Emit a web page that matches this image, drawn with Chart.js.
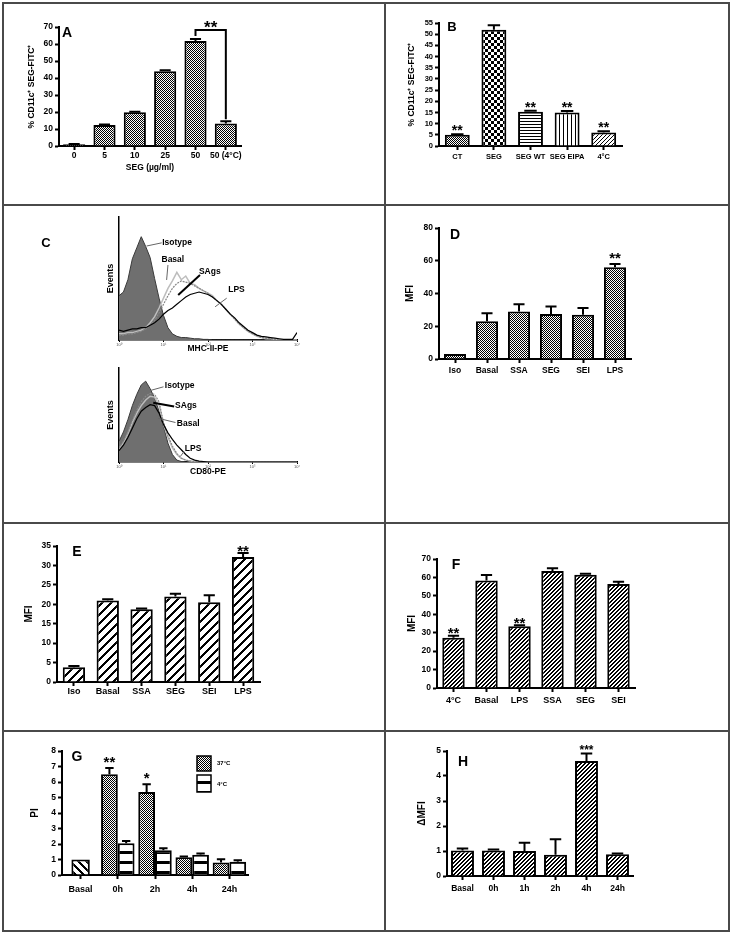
<!DOCTYPE html>
<html>
<head>
<meta charset="utf-8">
<script src="https://cdn.jsdelivr.net/npm/chart.js@4.4.1/dist/chart.umd.min.js"></script>
<style>
  body { margin: 0; background: #fff; }
  #page { position: relative; width: 732px; height: 935px; overflow: hidden; background: #fff; }
  #page canvas { position: absolute; }
  .rule { position: absolute; background: #4a4a4a; }
</style>
</head>
<body>
<div id="page"></div>
<script>
// ---- data ----
// A
var catsA = ['0', '5', '10', '25', '50', '50 (4°C)'];
var valsA = [1, 12.3, 19.8, 44, 61.8, 13.3];
var errA = [0.2, 0.3, 0.3, 0.5, 1.2, 1.3];
// B
var catsB = ['CT', 'SEG', 'SEG WT', 'SEG EIPA', '4°C'];
var valsB = [5, 52, 15.3, 15, 6];
var errB = [0.3, 2, 0.5, 0.6, 0.6];
// C (histograms, x in decades 10^0..10^4, y in % of axis height)
var decadeLabels = ['10⁰', '10¹', '10²', '10³', '10⁴'];
var histX = [0, 0.1, 0.2, 0.3, 0.4, 0.5, 0.6, 0.7, 0.8, 0.9, 1, 1.1, 1.2, 1.3, 1.4, 1.5, 1.6, 1.7, 1.8, 1.9, 2,
  2.1, 2.2, 2.3, 2.4, 2.5, 2.6, 2.7, 2.8, 2.9, 3, 3.1, 3.2, 3.3, 3.4, 3.5, 3.6, 3.7, 3.8, 3.9, 4];
var mhcIso = [36, 39, 49, 66, 75, 84, 76, 67, 50, 34, 20, 10, 5, 3, 2, 2, 1.5, 1, 1, 0.5, 0.5,
  0, 0, 0, 0, 0, 0, 0, 0, 0, 0, 0, 0, 0, 0, 0, 0, 0, 0, 0, 0];
var mhcBasal = [5, 5, 6, 6, 7, 8, 10, 14, 19, 26, 34, 42, 48, 55, 49, 52, 46, 45, 42, 40,
  38, 36, 32, 29, 25, 21, 17, 13, 10, 7, 5, 3, 2, 1, 1, 0.5, 0, 0, 0, 0, 0];
var mhcSAgs = [4, 4, 5, 5, 6, 7, 9, 12, 16, 22, 29, 36, 42, 46, 48, 47, 46, 44, 42, 40,
  38, 35, 32, 29, 25, 21, 17, 13, 10, 7, 5, 3.5, 2, 1.5, 1, 0.5, 0, 0, 0, 0, 0];
var mhcLPS = [8, 7, 8, 9, 9, 10, 10, 12, 14, 17, 21, 24, 26, 29, 32, 35, 37, 38, 39, 38,
  37, 35, 32, 29, 25, 21, 18, 14, 11, 8, 6, 4, 3, 2.5, 2, 1.5, 1, 0.5, 0.5, 0.5, 6];
var cd80Iso = [22, 32, 45, 60, 72, 82, 86, 78, 68, 54, 38, 20, 8, 2, 0.5,
  0, 0, 0, 0, 0, 0, 0, 0, 0, 0, 0, 0, 0, 0, 0, 0, 0, 0, 0, 0, 0, 0, 0, 0, 0, 0];
var cd80SAgs = [15, 22, 32, 44, 55, 64, 70, 73, 72, 64, 42, 28, 17, 9, 4, 2, 1, 0.5,
  0, 0, 0, 0, 0, 0, 0, 0, 0, 0, 0, 0, 0, 0, 0, 0, 0, 0, 0, 0, 0, 0, 0];
var cd80Basal = [14, 20, 30, 42, 52, 60, 66, 70, 69, 60, 40, 26, 15, 8, 4, 2, 1, 0.5,
  0, 0, 0, 0, 0, 0, 0, 0, 0, 0, 0, 0, 0, 0, 0, 0, 0, 0, 0, 0, 0, 0, 0];
var cd80LPS = [12, 18, 26, 36, 46, 54, 58, 61, 60, 52, 40, 31, 24, 18, 13, 8, 4, 2, 1, 0.5,
  0, 0, 0, 0, 0, 0, 0, 0, 0, 0, 0, 0, 0, 0, 0, 0, 0, 0, 0, 0, 0];
// D
var catsD = ['Iso', 'Basal', 'SSA', 'SEG', 'SEI', 'LPS'];
var valsD = [3, 23, 29, 27.5, 27, 56];
var errD = [0, 5, 4.5, 4.5, 4.2, 2];
// E
var catsE = ['Iso', 'Basal', 'SSA', 'SEG', 'SEI', 'LPS'];
var valsE = [3.8, 21, 18.7, 22, 20.5, 32.2];
var errE = [0.3, 0.3, 0.2, 0.7, 1.8, 1.0];
// F
var catsF = ['4°C', 'Basal', 'LPS', 'SSA', 'SEG', 'SEI'];
var valsF = [27.3, 58.3, 33.5, 63.5, 61.5, 56.5];
var errF = [1, 3, 0.5, 1.5, 0.5, 1.2];
// G
var catsG = ['Basal', '0h', '2h', '4h', '24h'];
var basalG = [1, null, null, null, null];
var warmG = [null, 6.5, 5.35, 1.15, 0.8];
var warmErrG = [0, 0.4, 0.5, 0.05, 0.22];
var coldG = [null, 2.05, 1.6, 1.3, 0.85];
var coldErrG = [0, 0.15, 0.12, 0.08, 0.1];
// H
var catsH = ['Basal', '0h', '1h', '2h', '4h', '24h'];
var valsH = [1.02, 1.02, 1.0, 0.85, 4.6, 0.87];
var errH = [0.08, 0.04, 0.33, 0.62, 0.3, 0.03];

// ---- setup ----
var FONT = '"Liberation Sans", Arial, sans-serif';
Chart.defaults.font.family = FONT;
Chart.defaults.font.weight = 'bold';
Chart.defaults.color = '#000';
var page = document.getElementById('page');

// table rules
[[3, 2, 727, 2], [3, 204, 727, 2], [3, 522, 727, 2], [3, 730, 727, 2], [3, 930, 727, 2],
 [2, 2, 2, 930], [384, 2, 2, 930], [728, 2, 2, 930]].forEach(function (r) {
  var d = document.createElement('div');
  d.className = 'rule';
  d.style.left = r[0] + 'px'; d.style.top = r[1] + 'px';
  d.style.width = r[2] + 'px'; d.style.height = r[3] + 'px';
  page.appendChild(d);
});

function pattern(w, h, black) {
  var t = document.createElement('canvas');
  t.width = w; t.height = h;
  var g = t.getContext('2d');
  g.fillStyle = '#fff'; g.fillRect(0, 0, w, h);
  g.fillStyle = '#000';
  for (var y = 0; y < h; y++) for (var x = 0; x < w; x++) if (black(x, y)) g.fillRect(x, y, 1, 1);
  return g.createPattern(t, 'repeat');
}
var pDots = pattern(2, 2, function (x, y) { return (x + y) % 2 === 0; });
var pCheck = pattern(6, 6, function (x, y) { return (x < 3) === (y < 3); });
var pHoriz = pattern(1, 3, function (x, y) { return y === 0; });
var pVert = pattern(4, 1, function (x) { return x === 0; });
var pThin = pattern(4, 4, function (x, y) { return (x + y) % 4 === 0; });
var pFine = pattern(4, 4, function (x, y) { return (x + y) % 4 < 2; });
var pWide = pattern(9, 9, function (x, y) { return (x + y) % 9 < 3; });
var pBack = pattern(8, 8, function (x, y) { return ((x - y) % 8 + 8) % 8 < 3; });
var pBands = pattern(1, 10, function (x, y) { return y < 3; });

function txt(c, s, x, y, size, align, base) {
  c.font = 'bold ' + size + 'px ' + FONT;
  c.textAlign = align || 'center';
  c.textBaseline = base || 'middle';
  c.fillStyle = '#000';
  c.fillText(s, x, y);
}

// error bars, stars, letters, bracket, legend, notes
var marks = {
  id: 'marks',
  afterDatasetsDraw: function (chart, args, o) {
    var c = chart.ctx, xs = chart.scales.x, ys = chart.scales.y;
    c.save();
    c.strokeStyle = '#000';
    chart.data.datasets.forEach(function (ds, di) {
      if (!ds.errors) return;
      chart.getDatasetMeta(di).data.forEach(function (el, i) {
        var v = ds.data[i], e = ds.errors[i];
        if (v == null || !e) return;
        var y0 = ys.getPixelForValue(v), y1 = ys.getPixelForValue(v + e), hw = el.width * 0.25;
        c.lineWidth = 2;
        c.beginPath();
        c.moveTo(el.x, y0); c.lineTo(el.x, y1);
        c.moveTo(el.x - hw, y1); c.lineTo(el.x + hw, y1);
        c.stroke();
      });
    });
    (o.stars || []).forEach(function (s) {
      var di = s.ds || 0, ds = chart.data.datasets[di];
      var el = chart.getDatasetMeta(di).data[s.i];
      var top = ys.getPixelForValue(ds.data[s.i] + (ds.errors ? ds.errors[s.i] : 0));
      var gap = s.d || o.starGap;
      txt(c, s.t, el.x, top - gap + o.starSize * 0.55, o.starSize, 'center', 'alphabetic');
    });
    if (o.bracket) {
      var b = o.bracket, m = chart.getDatasetMeta(0).data, d0 = chart.data.datasets[0];
      var yb = ys.getPixelForValue(b.y);
      var ya = ys.getPixelForValue(d0.data[b.a] + d0.errors[b.a]) - 3;
      var yc = ys.getPixelForValue(d0.data[b.b] + d0.errors[b.b]) - 2;
      c.lineWidth = 2;
      c.beginPath();
      c.moveTo(m[b.a].x, ya); c.lineTo(m[b.a].x, yb); c.lineTo(m[b.b].x, yb); c.lineTo(m[b.b].x, yc);
      c.stroke();
      txt(c, b.t, (m[b.a].x + m[b.b].x) / 2, yb - o.starGap + o.starSize * 0.55, o.starSize, 'center', 'alphabetic');
    }
    (o.legend || []).forEach(function (l) {
      var ds = chart.data.datasets[l.ds];
      var x = l.x - o.ox, y = l.y - o.oy;
      c.fillStyle = ds.backgroundColor;
      c.fillRect(x, y, l.w, l.h);
      c.lineWidth = 1.5; c.strokeStyle = '#000';
      c.strokeRect(x, y, l.w, l.h);
      txt(c, ds.label, l.tx - o.ox, l.ty - o.oy, 6, 'left');
    });
    (o.notes || []).forEach(function (n) {
      c.lineWidth = n.w || 1;
      c.strokeStyle = n.col || '#666';
      c.beginPath();
      c.moveTo(xs.getPixelForValue(n.l[0]), ys.getPixelForValue(n.l[1]));
      c.lineTo(xs.getPixelForValue(n.l[2]), ys.getPixelForValue(n.l[3]));
      c.stroke();
      txt(c, n.t, xs.getPixelForValue(n.x), ys.getPixelForValue(n.y), 8.5, n.a || 'left');
    });
    if (o.letter) txt(c, o.letter.t, o.letter.x - o.ox, o.letter.y - o.oy, o.letter.size || 14);
    c.restore();
  }
};

function mkCanvas(g) {
  var cv = document.createElement('canvas');
  g.ox = g.L - g.yW - (g.pl || 0);
  g.oy = g.T - g.pt;
  cv.width = Math.round(g.R + g.pr - g.ox);
  cv.height = Math.round(g.B + g.xH - g.oy);
  cv.style.left = g.ox + 'px';
  cv.style.top = g.oy + 'px';
  page.appendChild(cv);
  return cv;
}

function axisX(g, o) {
  return {
    offset: true,
    grid: {display: true, drawOnChartArea: false, drawTicks: true, tickLength: 4, tickWidth: 2, tickColor: '#000', offset: false},
    border: {display: true, color: '#000', width: 2},
    ticks: {autoSkip: false, maxRotation: 0, padding: o.xPad, color: '#000', font: {size: o.xFont || 8.5, weight: 'bold'}},
    title: {display: !!o.xTitle, text: o.xTitle || '', color: '#000', padding: 0, font: {size: 8.5, weight: 'bold'}},
    afterFit: function (s) { s.height = g.xH; }
  };
}
function axisY(g, o) {
  return {
    min: 0, max: o.yMax,
    grid: {display: true, drawOnChartArea: false, drawTicks: true, tickLength: 4, tickWidth: 2, tickColor: '#000'},
    border: {display: true, color: '#000', width: 2},
    ticks: {stepSize: o.yStep, autoSkip: false, padding: 2, color: '#000', font: {size: o.yFont || 8.5, weight: 'bold'}},
    title: {display: true, text: o.yTitle, color: '#000', padding: 0, font: {size: o.tFont || 10, weight: 'bold'}},
    afterFit: function (s) { s.width = g.yW; }
  };
}

function bars(vals, errs, fill, pct, extra) {
  var d = {data: vals, errors: errs, backgroundColor: fill, borderColor: '#000', borderWidth: 2,
    barPercentage: pct, categoryPercentage: 1};
  return Object.assign(d, extra || {});
}

function barPanel(g, labels, datasets, o) {
  var cv = mkCanvas(g);
  var m = Object.assign({ox: g.ox, oy: g.oy}, o.marks);
  return new Chart(cv, {
    type: 'bar',
    data: {labels: labels, datasets: datasets},
    options: {
      responsive: false, animation: false, events: [],
      layout: {padding: {left: g.pl || 0, top: g.pt, right: g.pr, bottom: 0}},
      plugins: {legend: {display: false}, tooltip: {enabled: false}, marks: m},
      scales: {x: axisX(g, o), y: axisY(g, o)}
    },
    plugins: [marks]
  });
}

function curve(vals, col, w, dash) {
  return {data: histX.map(function (x, i) { return {x: x, y: vals[i]}; }),
    borderColor: col, borderWidth: w, borderDash: dash || [], fill: false, pointRadius: 0, tension: 0};
}
function isoCurve(vals) {
  var d = curve(vals, '#3a3a3a', 1);
  d.fill = 'origin';
  d.backgroundColor = '#6f6f6f';
  return d;
}

function histPanel(g, sets, xTitle, m) {
  var cv = mkCanvas(g);
  return new Chart(cv, {
    type: 'line',
    data: {datasets: sets},
    options: {
      responsive: false, animation: false, events: [],
      layout: {padding: {left: g.pl, top: g.pt, right: g.pr, bottom: 0}},
      plugins: {legend: {display: false}, tooltip: {enabled: false}, marks: Object.assign({ox: g.ox, oy: g.oy}, m)},
      scales: {
        x: {type: 'linear', min: 0, max: 4,
          ticks: {stepSize: 1, padding: 0, color: '#555', font: {size: 4, weight: 'normal'},
            callback: function (v) { return decadeLabels[v]; }},
          grid: {drawOnChartArea: false, drawTicks: true, tickLength: 2, tickWidth: 1, tickColor: '#000'},
          border: {display: true, color: '#000', width: 1.5},
          title: {display: true, text: xTitle, padding: 0, color: '#000', font: {size: 8.5, weight: 'bold'}},
          afterFit: function (s) { s.height = g.xH; }},
        y: {min: 0, max: 100,
          ticks: {display: false},
          grid: {display: false},
          border: {display: true, color: '#000', width: 1.5},
          title: {display: true, text: 'Events', padding: 0, color: '#000', font: {size: 9, weight: 'bold'}},
          afterFit: function (s) { s.width = g.yW; }}
      }
    },
    plugins: [marks]
  });
}

// ---- A ----
barPanel({L: 59, T: 27, R: 241, B: 146, yW: 32, pt: 14, pr: 22, xH: 27}, catsA,
  [bars(valsA, errA, pDots, 0.73)],
  {yMax: 70, yStep: 10, tFont: 8.5, yTitle: '% CD11c⁺ SEG-FITC⁺', xTitle: 'SEG (µg/ml)', xPad: 1,
   marks: {starSize: 17, starGap: 6, bracket: {a: 4, b: 5, y: 68.3, t: '**'},
     letter: {t: 'A', x: 67, y: 33}}});

// ---- B ----
barPanel({L: 439, T: 23, R: 622, B: 146, yW: 32, pt: 10, pr: 12, xH: 20}, catsB,
  [{data: valsB, errors: errB, backgroundColor: [pDots, pCheck, pHoriz, pVert, pThin],
    borderColor: '#000', borderWidth: 2, barPercentage: 0.68, categoryPercentage: 1}],
  {yMax: 55, yStep: 5, yFont: 7.5, tFont: 8.5, yTitle: '% CD11c⁺ SEG-FITC⁺', xPad: 2, xFont: 7.5,
   marks: {starSize: 14, starGap: 6.5, stars: [{i: 0, t: '**'}, {i: 2, t: '**'}, {i: 3, t: '**'}, {i: 4, t: '**'}],
     letter: {t: 'B', x: 452, y: 27, size: 13}}});

// ---- C ----
histPanel({L: 119, T: 217, R: 297, B: 340, yW: 14, pl: 67, pt: 8, pr: 10, xH: 14},
  [curve(mhcLPS, '#000', 1.2), curve(mhcSAgs, '#888', 1.2, [2, 1]), curve(mhcBasal, '#bdbdbd', 1.5), isoCurve(mhcIso)],
  'MHC-II-PE',
  {letter: {t: 'C', x: 46, y: 243, size: 13},
   notes: [
     {t: 'Isotype', x: 0.97, y: 79, l: [0.96, 79, 0.62, 76.4]},
     {t: 'Basal', x: 1.21, y: 65, a: 'center', l: [1.10, 61, 1.07, 48.8]},
     {t: 'SAgs', x: 2.04, y: 55.5, a: 'center', w: 2, col: '#000', l: [1.82, 52.8, 1.33, 36.6]},
     {t: 'LPS', x: 2.64, y: 40.7, a: 'center', l: [2.42, 34, 2.16, 27]}
   ]});
histPanel({L: 119, T: 368, R: 297, B: 462, yW: 14, pl: 67, pt: 8, pr: 10, xH: 15},
  [curve(cd80LPS, '#000', 1.2), curve(cd80SAgs, '#888', 1.2, [2, 1]), curve(cd80Basal, '#bdbdbd', 1.5), isoCurve(cd80Iso)],
  'CD80-PE',
  {notes: [
     {t: 'Isotype', x: 1.03, y: 81, l: [1.0, 80, 0.70, 76]},
     {t: 'SAgs', x: 1.26, y: 59.6, w: 2, col: '#000', l: [1.24, 59, 0.77, 63]},
     {t: 'Basal', x: 1.30, y: 41, l: [1.27, 42, 0.88, 46.5]},
     {t: 'LPS', x: 1.48, y: 14.6, l: [1.46, 11, 1.38, 6]}
   ]});

// ---- D ----
barPanel({L: 439, T: 228, R: 631, B: 359, yW: 35, pt: 10, pr: 12, xH: 20}, catsD,
  [bars(valsD, errD, pDots, 0.69)],
  {yMax: 80, yStep: 20, yTitle: 'MFI', xPad: 3,
   marks: {starSize: 15, starGap: 9, stars: [{i: 5, t: '**'}], letter: {t: 'D', x: 455, y: 235}}});

// ---- E ----
barPanel({L: 57, T: 546, R: 260, B: 682, yW: 34, pt: 10, pr: 12, xH: 20}, catsE,
  [bars(valsE, errE, pWide, 0.66)],
  {yMax: 35, yStep: 5, yTitle: 'MFI', xPad: 0, xFont: 9,
   marks: {starSize: 15, starGap: 5, stars: [{i: 5, t: '**'}], letter: {t: 'E', x: 77, y: 552}}});

// ---- F ----
barPanel({L: 437, T: 559, R: 635, B: 688, yW: 31, pt: 10, pr: 12, xH: 22}, catsF,
  [bars(valsF, errF, pFine, 0.68)],
  {yMax: 70, yStep: 10, yTitle: 'MFI', xPad: 3, xFont: 9,
   marks: {starSize: 15, starGap: 6, stars: [{i: 0, t: '**'}, {i: 2, t: '**'}], letter: {t: 'F', x: 456, y: 565}}});

// ---- G ----
barPanel({L: 62, T: 751, R: 248, B: 875, yW: 33, pt: 10, pr: 12, xH: 22}, catsG,
  [bars(basalG, null, pBack, 0.55, {label: 'Basal', categoryPercentage: 0.9, skipNull: true}),
   bars(warmG, warmErrG, pDots, 1, {label: '37°C', categoryPercentage: 0.9, skipNull: true}),
   bars(coldG, coldErrG, pBands, 1, {label: '4°C', categoryPercentage: 0.9, skipNull: true})],
  {yMax: 8, yStep: 1, yTitle: 'PI', xPad: 5, xFont: 9,
   marks: {starSize: 15, starGap: 9, stars: [{ds: 1, i: 1, t: '**'}, {ds: 1, i: 2, t: '*', d: 10}],
     letter: {t: 'G', x: 77, y: 757},
     legend: [{ds: 1, x: 197, y: 756, w: 14, h: 15, tx: 217, ty: 763},
              {ds: 2, x: 197, y: 775, w: 14, h: 17, tx: 217, ty: 784}]}});

// ---- H ----
barPanel({L: 447, T: 751, R: 633, B: 876, yW: 31, pt: 12, pr: 12, xH: 22}, catsH,
  [bars(valsH, errH, pFine, 0.74)],
  {yMax: 5, yStep: 1, yTitle: 'ΔMFI', xPad: 4,
   marks: {starSize: 12, starGap: 6, stars: [{i: 4, t: '***'}], letter: {t: 'H', x: 463, y: 762}}});
</script>
</body>
</html>
